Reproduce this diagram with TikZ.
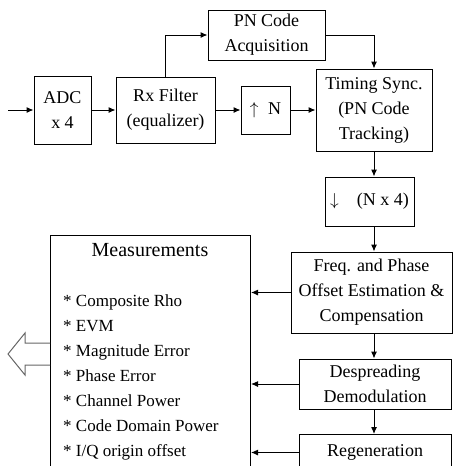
\documentclass[tikz,border=0pt]{standalone}
\usepackage{fontspec}
\setmainfont{Liberation Serif}
\usetikzlibrary{arrows.meta}
\usetikzlibrary{positioning}
\tikzset{
  block/.style={draw, line width=1pt, align=center, inner sep=0pt,
    font=\fontsize{18}{25}\selectfont},
  flow/.style={line width=1pt, -{Latex[length=7pt,width=6pt]}}
}

\begin{document}
\begin{tikzpicture}[x=1pt,y=-1pt]
				\useasboundingbox (0,0) rectangle (453,466);
				% draw blocks of the receiver chain
				\node[block, minimum width=57, minimum height=68] (adc) at (62.5,110) {ADC\\x 4};
				\node[block, minimum width=99, minimum height=66] (rx) at (165.5,110) {Rx Filter\\(equalizer)};
				\node[block, minimum width=117, minimum height=50] (pn) at (266.5,35) {PN Code\\Acquisition};
				\node[block, minimum width=49, minimum height=48] (up) at (265.5,110) {$\uparrow$\; N};
				\node[block, minimum width=116, minimum height=82] (timing) at (374,110) {Timing Sync.\\(PN Code\\Tracking)};
				\node[block, minimum width=89, minimum height=49] (down) at (369.5,201.5) {$\downarrow$\quad (N x 4)};
				\node[block, minimum width=161, minimum height=81] (freq) at (371.5,292.5) {Freq. and Phase\\Offset Estimation \&\\Compensation};
				\node[block, minimum width=152, minimum height=50] (desp) at (375,384) {Despreading\\Demodulation};
				\node[block, minimum width=152, minimum height=36, anchor=north] (regen) at (375,434) {Regeneration};
				% measurement box
				\node[block, minimum width=200, minimum height=250, anchor=north west] (meas) at (50,235) {};
				\node[font=\fontsize{20}{25}\selectfont] (meastitle) at (150,250) {Measurements};
				\node[align=left, anchor=north west, inner sep=0pt, font=\fontsize{17}{25}\selectfont] (measlist) at (63,294)
				  {* Composite Rho\\* EVM\\* Magnitude Error\\* Phase Error\\* Channel Power\\* Code Domain Power\\* I/Q origin offset};
				% hollow output arrow
				\draw[line width=1pt, black!60] (meas.west |- 0,343) -- (25,343) -- (25,333) -- (8,354) -- (25,375) -- (25,365) -- (meas.west |- 0,365);
				% draw signal flow
				\coordinate (in) at (8,110);
				\draw[flow] (in) -- (adc.west);
				\draw[flow] (adc.east) -- (rx.west);
				\draw[flow] (rx.east) -- (up.west);
				\draw[flow] (up.east) -- (timing.west);
				\draw[flow] (rx.north) |- (pn.west);
				\draw[flow] (pn.east) -| (timing.north);
				\draw[flow] (timing.south) -- (timing.south |- down.north);
				\draw[flow] (down.south -| timing.south) -- (freq.north -| timing.south);
				\draw[flow] (freq.south -| timing.south) -- (desp.north -| timing.south);
				\draw[flow] (desp.south -| timing.south) -- (regen.north -| timing.south);
				% results to measurements
				\draw[flow] (freq.west) -- (freq.west -| meas.east);
				\draw[flow] (desp.west) -- (desp.west -| meas.east);
				\draw[flow] (regen.west) -- (regen.west -| meas.east);
			\end{tikzpicture}
\end{document}
